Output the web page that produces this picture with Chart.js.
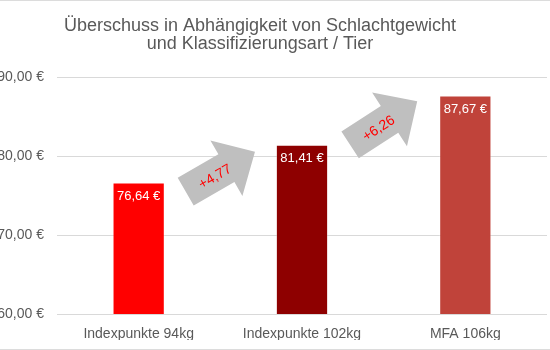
<!DOCTYPE html>
<html lang="de">
<head>
<meta charset="utf-8">
<title>Überschuss je Tier</title>
<script src="https://cdn.jsdelivr.net/npm/chart.js@4"></script>
<style>
  html, body { margin: 0; padding: 0; background: #fff; }
  #wrap { position: relative; width: 550px; height: 350px; overflow: hidden; }
  #wrap canvas { position: absolute; left: -27px; top: 0; }
  #wrap::before, #wrap::after { content: ''; position: absolute; left: 0; right: 0; height: 1px; background: #dcdcdc; z-index: 1; }
  #wrap::before { top: 0; }
  #wrap::after { bottom: 0; }
</style>
</head>
<body>
<div id="wrap"><canvas id="surplusChart" width="577" height="350"></canvas></div>
<script>
const categories = ['Indexpunkte 94kg', 'Indexpunkte 102kg', 'MFA 106kg'];
const surplus = [76.64, 81.41, 87.67];
const barColors = ['#FF0000', '#8E0000', '#C0433A'];
const yTicks = [60, 70, 80, 90];

const FONT = '"Liberation Sans", Arial, Helvetica, sans-serif';
const GREY_TEXT = '#595959';

function euro(v) {
    return v.toFixed(2).replace('.', ',') + ' €';
}

function plusDiff(v) {
    return '+' + v.toFixed(2).replace('.', ',');
}

// value label inside the top of each bar
const barLabels = {
    id: 'barLabels',
    afterDatasetsDraw(chart) {
        const ctx = chart.ctx;
        const meta = chart.getDatasetMeta(0);
        ctx.save();
        ctx.font = '13px ' + FONT;
        ctx.fillStyle = '#FFFFFF';
        ctx.textAlign = 'center';
        ctx.textBaseline = 'middle';
        meta.data.forEach((bar, i) => {
            ctx.fillText(euro(surplus[i]), bar.x, bar.y + 14);
        });
        ctx.restore();
    }
};

// grey block arrows between neighbouring bars showing the increase
const stepArrows = {
    id: 'stepArrows',
    afterDatasetsDraw(chart) {
        const ctx = chart.ctx;
        const meta = chart.getDatasetMeta(0);
        const angles = [-30, -33];
        const drops = [8, 3];
        for (let i = 0; i < surplus.length - 1; i++) {
            const a = meta.data[i];
            const b = meta.data[i + 1];
            const cx = (a.x + b.x) / 2;
            const cy = (a.y + b.y) / 2 + drops[i];
            ctx.save();
            ctx.translate(cx, cy);
            ctx.rotate(angles[i] * Math.PI / 180);
            ctx.beginPath();
            ctx.moveTo(-40, -16);
            ctx.lineTo(7, -16);
            ctx.lineTo(7, -32);
            ctx.lineTo(40, 0);
            ctx.lineTo(7, 32);
            ctx.lineTo(7, 16);
            ctx.lineTo(-40, 16);
            ctx.closePath();
            ctx.fillStyle = '#BFBFBF';
            ctx.fill();
            ctx.font = '14px ' + FONT;
            ctx.fillStyle = '#FF0000';
            ctx.textAlign = 'center';
            ctx.textBaseline = 'middle';
            ctx.fillText(plusDiff(surplus[i + 1] - surplus[i]), -7, 2);
            ctx.restore();
        }
    }
};

new Chart(document.getElementById('surplusChart'), {
    type: 'bar',
    data: {
        labels: categories,
        datasets: [{
            data: surplus,
            backgroundColor: barColors,
            borderColor: 'rgba(255, 255, 255, 0.3)',
            borderWidth: 1,
            barPercentage: 0.32,
            categoryPercentage: 1
        }]
    },
    options: {
        responsive: false,
        animation: false,
        devicePixelRatio: 1,
        layout: { padding: { left: 0, right: 3, top: 0, bottom: 10 } },
        plugins: {
            legend: { display: false },
            tooltip: { enabled: false },
            title: {
                display: true,
                text: ['Überschuss in Abhängigkeit von Schlachtgewicht', 'und Klassifizierungsart / Tier'],
                color: GREY_TEXT,
                font: { family: FONT, size: 18, weight: 'normal', lineHeight: 1.0 },
                padding: { top: 17, bottom: 24 }
            }
        },
        scales: {
            x: {
                grid: { display: false, drawTicks: false },
                border: { display: false },
                afterFit: scale => { scale.height = 26; },
                ticks: { color: GREY_TEXT, font: { family: FONT, size: 14 }, padding: 12 }
            },
            y: {
                min: 60,
                max: 90,
                afterBuildTicks: scale => { scale.ticks = yTicks.map(v => ({ value: v })); },
                afterFit: scale => { scale.width = 84; },
                grid: { color: '#D9D9D9', drawTicks: false },
                border: { display: false },
                ticks: {
                    color: GREY_TEXT,
                    font: { family: FONT, size: 14 },
                    padding: 13,
                    callback: v => euro(v)
                }
            }
        }
    },
    plugins: [barLabels, stepArrows]
});
</script>
</body>
</html>
